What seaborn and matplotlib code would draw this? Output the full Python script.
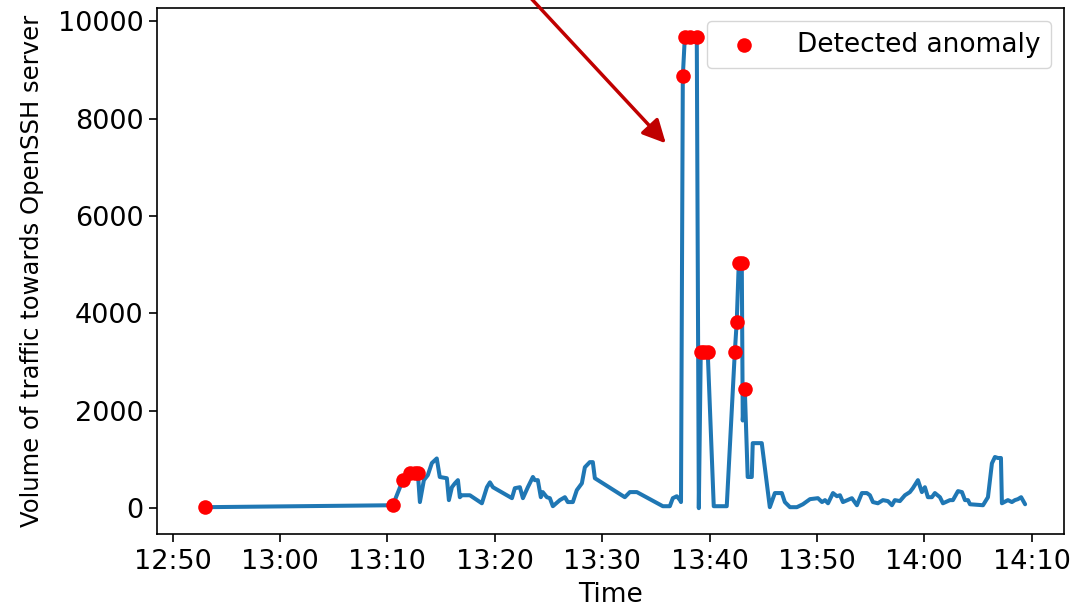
import matplotlib
matplotlib.use("Agg")
import matplotlib.pyplot as plt
import matplotlib.dates as mdates
import seaborn as sns
import pandas as pd

# minutes after 12:50 and traffic volume
traffic_minutes = [
    3.01, 20.51, 21.44, 22.09, 22.56, 22.84, 23.03, 23.40, 23.77, 24.14,
    24.60, 24.88, 25.54, 25.73, 26.01, 26.29, 26.57, 26.75, 26.94, 27.68,
    28.80, 29.27, 29.55, 29.83, 31.60, 31.87, 32.34, 32.62, 33.08, 33.55,
    33.73, 34.01, 34.29, 34.47, 34.85, 35.13, 35.41, 36.06, 36.53, 36.80,
    37.27, 37.64, 38.11, 38.39, 38.85, 39.13, 39.32, 42.11, 42.58, 43.23,
    45.65, 46.30, 46.58, 46.95, 47.25, 47.34, 47.51, 47.70, 48.16, 48.81,
    49.00, 49.18, 49.46, 49.83, 50.39, 51.60, 52.35, 52.53, 52.72, 53.00,
    53.09, 53.28, 53.37, 53.55, 53.93, 54.02, 54.86, 55.61, 56.08, 56.73,
    57.01, 57.49, 58.13, 58.69, 59.35, 60.09, 60.47, 60.75, 61.03, 61.49,
    61.86, 62.14, 62.42, 63.25, 63.72, 64.18, 64.65, 64.93, 65.21, 65.67,
    66.14, 66.61, 66.98, 67.25, 67.72, 68.19, 68.65, 68.93, 69.40, 69.77,
    70.05, 70.33, 70.70, 70.98, 71.45, 71.73, 72.38, 72.66, 73.13, 73.50,
    73.78, 74.06, 74.25, 75.46, 75.92, 76.29, 76.57, 76.85, 77.13, 77.22,
    77.78, 78.15, 78.43, 78.71, 79.01, 79.38,
]
traffic_volume = [
    20, 60, 575, 720, 730, 720, 125, 575, 680, 925,
    1020, 640, 615, 165, 430, 510, 575, 225, 265, 265,
    100, 430, 530, 430, 205, 410, 430, 205, 430, 640,
    575, 575, 225, 330, 225, 205, 40, 165, 225, 125,
    125, 370, 510, 840, 945, 945, 615, 225, 330, 330,
    40, 40, 205, 245, 165, 125, 8870, 9680, 9680, 9680,
    0, 3200, 3200, 3200, 40, 40, 3200, 3830, 5030, 5030,
    1800, 2450, 1850, 640, 640, 1335, 1335, 20, 310, 310,
    125, 20, 20, 80, 185, 205, 125, 165, 100, 310,
    245, 265, 125, 205, 60, 310, 310, 265, 125, 100,
    165, 145, 60, 165, 145, 265, 330, 410, 575, 330,
    430, 225, 225, 310, 225, 100, 165, 165, 350, 330,
    165, 165, 80, 60, 225, 920, 1050, 1030, 1030, 100,
    165, 125, 165, 185, 225, 80,
]

# detected anomalies
anomaly_minutes = [3.01, 20.51, 21.44, 22.09, 22.56, 22.84,
                   47.51, 47.70, 48.16, 48.81, 49.18, 49.46, 49.83,
                   52.35, 52.53, 52.72, 53.00, 53.28]
anomaly_volume = [20, 60, 575, 720, 730, 720,
                  8870, 9680, 9680, 9680, 3200, 3200, 3200,
                  3200, 3830, 5030, 5030, 2450]

start = pd.Timestamp("2019-01-01 12:50")
df = pd.DataFrame({
    "time": start + pd.to_timedelta(traffic_minutes, unit="m"),
    "volume": traffic_volume,
})
anom = pd.DataFrame({
    "time": start + pd.to_timedelta(anomaly_minutes, unit="m"),
    "volume": anomaly_volume,
})

sns.set_style("ticks")
plt.rcParams["font.family"] = ["DejaVu Sans"]
plt.rcParams.update({"text.color": "black", "axes.labelcolor": "black",
                     "xtick.color": "black", "ytick.color": "black"})

fig = plt.figure(figsize=(10.73, 6.09), dpi=100)
ax = fig.add_axes([0.1463, 0.1232, 0.8453, 0.8637])

sns.lineplot(data=df, x="time", y="volume", ax=ax, color="#1f77b4",
             linewidth=2.9, estimator=None, sort=False)
sns.scatterplot(data=anom, x="time", y="volume", ax=ax, color="red",
                s=110, linewidth=0, zorder=3, label="Detected anomaly")

# arrow pointing at the attack
ax.annotate("", xy=(start + pd.Timedelta(minutes=46.1), 7450),
            xytext=(start + pd.Timedelta(minutes=32.4), 10700),
            arrowprops=dict(arrowstyle="-|>", color="#c00000", lw=2.5,
                            mutation_scale=35),
            annotation_clip=False)

ax.set_xlim(start - pd.Timedelta(minutes=1.45), start + pd.Timedelta(minutes=83.0))
ax.set_ylim(-530, 10270)
ax.xaxis.set_major_locator(mdates.MinuteLocator(byminute=[0, 10, 20, 30, 40, 50]))
ax.xaxis.set_major_formatter(mdates.DateFormatter("%H:%M"))
ax.set_yticks([0, 2000, 4000, 6000, 8000, 10000])

ax.tick_params(labelsize=19.5, length=6, width=1.2, color="black")
ax.tick_params(axis="x", pad=5)
for sp in ax.spines.values():
    sp.set_color("black")
    sp.set_linewidth(1.2)

ax.set_xlabel("Time", fontsize=19, labelpad=5)
ax.set_ylabel("Volume of traffic towards OpenSSH server", fontsize=17.5, labelpad=10)
ax.legend(loc="upper right", fontsize=19, handletextpad=1.0)

fig.savefig("out.png", dpi=100)
